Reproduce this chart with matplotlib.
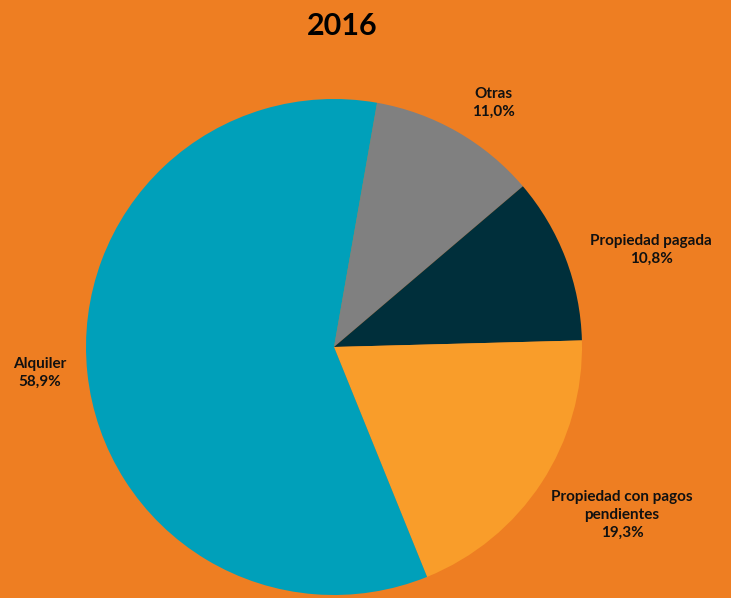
import matplotlib
matplotlib.use("Agg")
import matplotlib.pyplot as plt

categories = ["Otras", "Propiedad pagada", "Propiedad con pagos\npendientes", "Alquiler"]
values = [11.0, 10.8, 19.3, 58.9]
pct_labels = ["11,0%", "10,8%", "19,3%", "58,9%"]
colors = ["#808080", "#002f3b", "#f99d2a", "#00a0ba"]
title = "2016"

bg = "#ee7e22"
fig = plt.figure(figsize=(7.31, 5.98), dpi=100, facecolor=bg)
ax = fig.add_axes([0, 0, 1, 1])
ax.set_facecolor(bg)
ax.set_xlim(0, 731)
ax.set_ylim(0, 598)
ax.set_aspect("equal")
ax.axis("off")

ax.pie(values, colors=colors, startangle=80, counterclock=False,
       center=(334, 251), radius=248, frame=True,
       wedgeprops=dict(linewidth=0))
ax.set_xlim(0, 731)
ax.set_ylim(0, 598)
ax.axis("off")

font = "Lato"
label_pos = [(493, 495), (651, 348), (622, 83), (40, 225)]
for cat, pct, (x, y) in zip(categories, pct_labels, label_pos):
    ax.text(x, y, f"{cat}\n{pct}", ha="center", va="center", fontsize=11,
            fontweight="bold", family=font, color="#111111", linespacing=1.35)

ax.text(342, 572, title, ha="center", va="center", fontsize=22,
        fontweight="bold", family=font, color="black")

fig.savefig("out.png", dpi=100, facecolor=bg)
